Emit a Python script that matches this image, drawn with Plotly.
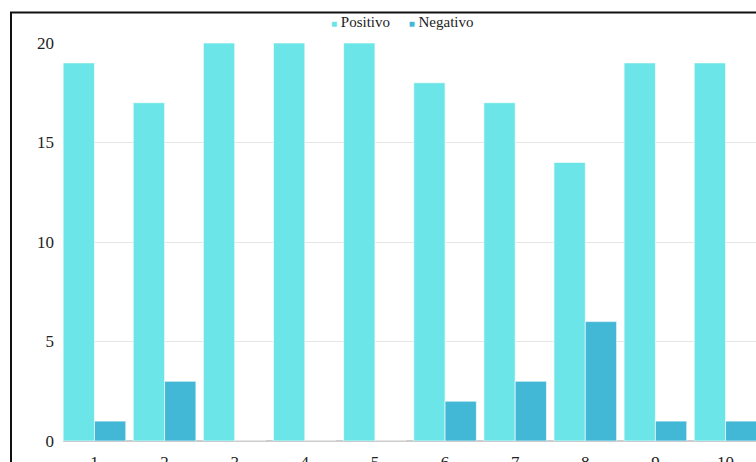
import plotly.graph_objects as go

categories = ["1", "2", "3", "4", "5", "6", "7", "8", "9", "10"]
positivo = [19, 17, 20, 20, 20, 18, 17, 14, 19, 19]
negativo = [1, 3, 0, 0, 0, 2, 3, 6, 1, 1]
y_ticks = [0, 5, 10, 15, 20]
series_names = ["Positivo", "Negativo"]

COL_POS = "#6be5e8"
COL_NEG = "#43b8d6"
FONT = "Liberation Serif"

W, H = 756, 462
ML, MR, MT, MB = 63, 0, 43, 21
PW, PH = W - ML - MR, H - MT - MB

fig = go.Figure()
fig.add_trace(go.Bar(x=categories, y=positivo, name=series_names[0], showlegend=False,
                     marker=dict(color=COL_POS, line=dict(color="rgba(255,255,255,0.6)", width=1))))
fig.add_trace(go.Bar(x=categories, y=negativo, name=series_names[1], showlegend=False,
                     marker=dict(color=COL_NEG, line=dict(color="rgba(255,255,255,0.6)", width=1))))

def px_x(p):
    return (p - ML) / PW

def px_y(p):
    return (H - MB - p) / PH

legend_text = (
    f"<span style='color:{COL_POS};font-size:10px'>■</span> {series_names[0]}"
    f"     <span style='color:{COL_NEG};font-size:10px'>■</span> {series_names[1]}"
)

fig.update_layout(
    width=W, height=H,
    margin=dict(l=ML, r=MR, t=MT, b=MB, pad=0, autoexpand=False),
    paper_bgcolor="white", plot_bgcolor="white",
    font=dict(family=FONT, size=17, color="#222"),
    barmode="group", bargap=0.107, bargroupgap=0.0,
    showlegend=False,
    annotations=[
        dict(text=legend_text, xref="paper", yref="paper", x=px_x(402), y=px_y(22),
             xanchor="center", yanchor="middle", showarrow=False,
             font=dict(size=15, family=FONT, color="#222")),
    ],
    xaxis=dict(type="category", range=[-0.4487, 9.4345], showgrid=False, zeroline=False,
               automargin=False, ticks="outside", ticklen=6, tickcolor="rgba(0,0,0,0)",
               showline=False, tickfont=dict(size=17, family=FONT)),
    yaxis=dict(range=[0, 20], tickvals=y_ticks, showgrid=True, gridcolor="#e6e6e6", gridwidth=1,
               automargin=False, zeroline=True, zerolinecolor="#cccccc", zerolinewidth=2,
               showline=False, ticks="", ticklabelstandoff=8, tickfont=dict(size=17, family=FONT)),
    shapes=[
        dict(type="line", xref="paper", yref="paper", x0=px_x(10), x1=px_x(W + 5),
             y0=px_y(12.5), y1=px_y(12.5), line=dict(color="#111", width=2), layer="above"),
        dict(type="line", xref="paper", yref="paper", x0=px_x(11), x1=px_x(11),
             y0=px_y(12.5), y1=px_y(H + 5), line=dict(color="#111", width=2), layer="above"),
    ],
)

fig.write_html(
    "out.html",
    config={"responsive": False, "displayModeBar": False},
    post_script="document.body.style.margin='0';document.body.style.overflow='hidden';",
)
